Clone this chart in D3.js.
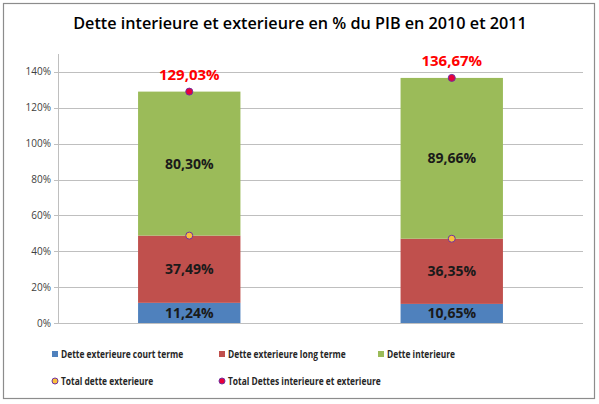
<!DOCTYPE html>
<html>
<head>
<meta charset="utf-8">
<script src="https://cdn.jsdelivr.net/npm/d3@7"></script>
<style>
  body { margin: 0; background: #fff; }
  text { font-family: "Open Sans", sans-serif; }
</style>
</head>
<body>
<div id="chart"></div>
<script>
const width = 599;
const height = 404;

// data
const years = ["2010", "2011"];
const courtTerme = [11.24, 10.65];
const longTerme = [37.49, 36.35];
const interieure = [80.30, 89.66];
const totalExterieure = [48.73, 47.00];
const totalDettes = [129.03, 136.67];
const yTicks = [0, 20, 40, 60, 80, 100, 120, 140];

const seriesNames = ["Dette exterieure court terme", "Dette exterieure long terme", "Dette interieure"];
const seriesColors = ["#4f81bd", "#c0504d", "#9bbb59"];

const margin = { top: 54, left: 58, right: 16, bottom: 81 };

const svg = d3
  .select("#chart")
  .append("svg")
  .attr("width", width)
  .attr("height", height);

// outer frame
svg.append("rect")
  .attr("x", 3.5).attr("y", 3.5)
  .attr("width", 591).attr("height", 395)
  .attr("fill", "#fff")
  .attr("stroke", "#8c8c8c")
  .attr("stroke-width", 1.2);

svg.append("text")
  .attr("x", 300).attr("y", 29)
  .attr("text-anchor", "middle")
  .style("font-size", "16.2px")
  .style("font-weight", "600")
  .text("Dette interieure et exterieure en % du PIB en 2010 et 2011");

const x = d3.scaleBand()
  .domain(years)
  .range([margin.left, width - margin.right])
  .paddingInner(0.61)
  .paddingOuter(0.305);

const y = d3.scaleLinear()
  .domain([0, 150])
  .range([height - margin.bottom, margin.top]);

// grid
svg.append("g")
  .selectAll("line")
  .data(yTicks)
  .join("line")
  .attr("x1", margin.left - 4)
  .attr("x2", width - margin.right)
  .attr("y1", d => Math.round(y(d)) + 0.5)
  .attr("y2", d => Math.round(y(d)) + 0.5)
  .attr("stroke", "#bfbfbf")
  .attr("stroke-width", 1);

svg.append("line")
  .attr("x1", margin.left + 0.5).attr("x2", margin.left + 0.5)
  .attr("y1", margin.top).attr("y2", y(0))
  .attr("stroke", "#bfbfbf");

svg.append("g")
  .selectAll("text")
  .data(yTicks)
  .join("text")
  .attr("x", margin.left - 7)
  .attr("y", d => y(d) + 3.5)
  .attr("text-anchor", "end")
  .style("font-size", "10px")
  .style("fill", "#404040")
  .text(d => d + "%");

// stacked bars
const rows = years.map((yr, i) => ({
  year: yr,
  court: courtTerme[i],
  long: longTerme[i],
  inter: interieure[i]
}));
const stack = d3.stack().keys(["court", "long", "inter"])(rows);

const fmt = v => v.toFixed(2).replace(".", ",") + "%";

stack.forEach((layer, k) => {
  svg.append("g")
    .selectAll("rect")
    .data(layer)
    .join("rect")
    .attr("x", d => x(d.data.year))
    .attr("width", x.bandwidth())
    .attr("y", d => y(d[1]))
    .attr("height", d => y(d[0]) - y(d[1]))
    .attr("fill", seriesColors[k]);

  svg.append("g")
    .selectAll("text")
    .data(layer)
    .join("text")
    .attr("x", d => x(d.data.year) + x.bandwidth() / 2)
    .attr("y", d => y((d[0] + d[1]) / 2) + 5)
    .attr("text-anchor", "middle")
    .style("font-size", "14px")
    .style("font-weight", "bold")
    .style("fill", "#1a1a1a")
    .text(d => fmt(d[1] - d[0]));
});

// markers
const cx = yr => x(yr) + x.bandwidth() / 2;

svg.append("g")
  .selectAll("circle")
  .data(years)
  .join("circle")
  .attr("cx", d => cx(d))
  .attr("cy", (d, i) => y(totalExterieure[i]))
  .attr("r", 3.5)
  .attr("fill", "#fac03c")
  .attr("stroke", "#7030a0")
  .attr("stroke-width", 1);

svg.append("g")
  .selectAll("circle")
  .data(years)
  .join("circle")
  .attr("cx", d => cx(d))
  .attr("cy", (d, i) => y(totalDettes[i]))
  .attr("r", 3.5)
  .attr("fill", "#e8003a")
  .attr("stroke", "#7030a0")
  .attr("stroke-width", 1);

svg.append("g")
  .selectAll("text")
  .data(years)
  .join("text")
  .attr("x", d => cx(d))
  .attr("y", (d, i) => y(totalDettes[i]) - 12)
  .attr("text-anchor", "middle")
  .style("font-size", "15px")
  .style("font-weight", "bold")
  .style("fill", "#ff0000")
  .text((d, i) => fmt(totalDettes[i]));

// legend
const legendSquares = [
  { name: seriesNames[0], color: seriesColors[0], x: 52, y: 354 },
  { name: seriesNames[1], color: seriesColors[1], x: 219, y: 354 },
  { name: seriesNames[2], color: seriesColors[2], x: 378, y: 354 }
];
const legendDots = [
  { name: "Total dette exterieure", fill: "#fac03c", x: 52, y: 381 },
  { name: "Total Dettes interieure et exterieure", fill: "#e8003a", x: 219, y: 381 }
];

const lg = svg.append("g");
const legendText = (l) => {
  const t = lg.append("text")
    .attr("x", l.x + 9).attr("y", l.y + 4)
    .style("font-size", "10.5px")
    .style("font-weight", "bold")
    .style("fill", "#262626")
    .text(l.name);
  // narrow the face a bit, the original uses a condensed font
  const w = t.node().getComputedTextLength();
  t.attr("textLength", w * 0.8).attr("lengthAdjust", "spacingAndGlyphs");
};
legendSquares.forEach(l => {
  lg.append("rect")
    .attr("x", l.x).attr("y", l.y - 3)
    .attr("width", 6).attr("height", 6)
    .attr("fill", l.color);
  legendText(l);
});
legendDots.forEach(l => {
  lg.append("circle")
    .attr("cx", l.x + 3).attr("cy", l.y)
    .attr("r", 3)
    .attr("fill", l.fill)
    .attr("stroke", "#7030a0")
    .attr("stroke-width", 1);
  legendText(l);
});
</script>
</body>
</html>
